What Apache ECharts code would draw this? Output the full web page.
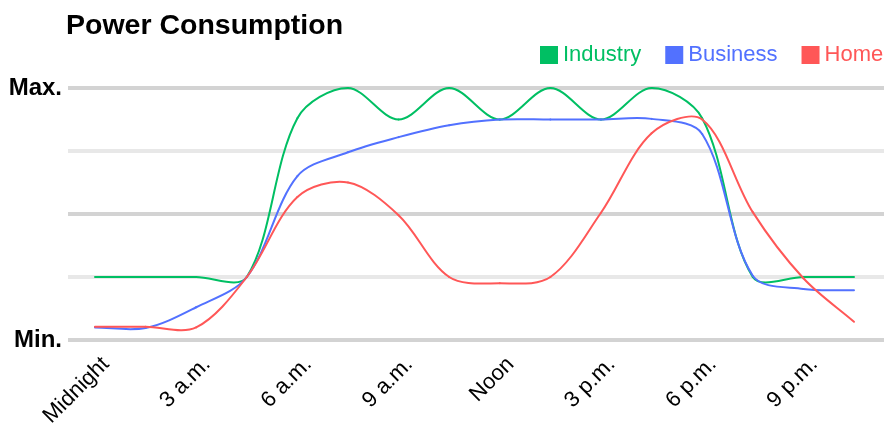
<!DOCTYPE html>
<html lang="en">
<head>
<meta charset="UTF-8">
<title>Power Consumption</title>
<script src="https://cdn.jsdelivr.net/npm/echarts@6.0.0/dist/echarts.min.js"></script>
<style>
    html, body { margin: 0; padding: 0; background: #fff; }
    #main { width: 884px; height: 428px; }
</style>
</head>
<body>
<div id="main"></div>
<script type="text/javascript">
    // samples every 1.5 hours, 0 = midnight
    var hours = [0, 1.5, 3, 4.5, 6, 7.5, 9, 10.5, 12, 13.5, 15, 16.5, 18, 19.5, 21, 22.5];
    // 0 = Min., 4 = Max.
    var industry = [1, 1, 1, 1, 3.52, 4, 3.5, 4, 3.5, 4, 3.5, 4, 3.52, 1, 1, 1];
    var business = [0.2, 0.19, 0.52, 1, 2.6, 2.98, 3.22, 3.41, 3.5, 3.5, 3.5, 3.51, 3.27, 1.02, 0.81, 0.79];
    var home = [0.21, 0.21, 0.2, 1, 2.27, 2.5, 1.98, 1, 0.9, 1, 2.02, 3.28, 3.5, 2.03, 0.98, 0.29];
    var tickHours = [0, 3, 6, 9, 12, 15, 18, 21];
    var tickLabels = ['Midnight', '3 a.m.', '6 a.m.', '9 a.m.', 'Noon', '3 p.m.', '6 p.m.', '9 p.m.'];

    var font = '"Liberation Sans", Arial, sans-serif';
    var xMin = -0.8, xMax = 23.39;
    var labelShift = 0.32;   // the source puts its rotated labels a little right of the tick
    var tension = 0.33;

    // cubic spline like Chart.js (no clamping at the extremes, so it overshoots a bit)
    function controlPoints(pts) {
        var cps = [];
        for (var i = 0; i < pts.length; i++) {
            var p = pts[i];
            var prev = pts[i - 1] || p;
            var next = pts[i + 1] || p;
            var d01 = Math.hypot(p[0] - prev[0], p[1] - prev[1]);
            var d12 = Math.hypot(next[0] - p[0], next[1] - p[1]);
            var s01 = d01 / (d01 + d12) || 0;
            var s12 = d12 / (d01 + d12) || 0;
            var fa = tension * s01, fb = tension * s12;
            var vx = next[0] - prev[0], vy = next[1] - prev[1];
            cps.push({
                prev: [p[0] - fa * vx, p[1] - fa * vy],
                next: [p[0] + fb * vx, p[1] + fb * vy]
            });
        }
        return cps;
    }

    function lineSeries(name, color, values) {
        return {
            name: name,
            type: 'custom',
            color: color,
            itemStyle: { color: color },
            encode: { x: 0, y: 1 },
            data: [[hours[0], values[0]]],
            renderItem: function (params, api) {
                var pts = [];
                for (var i = 0; i < hours.length; i++) {
                    pts.push(api.coord([hours[i], values[i]]));
                }
                var cps = controlPoints(pts);
                var children = [];
                for (var j = 0; j < pts.length - 1; j++) {
                    children.push({
                        type: 'bezierCurve',
                        shape: {
                            x1: pts[j][0], y1: pts[j][1],
                            cpx1: cps[j].next[0], cpy1: cps[j].next[1],
                            cpx2: cps[j + 1].prev[0], cpy2: cps[j + 1].prev[1],
                            x2: pts[j + 1][0], y2: pts[j + 1][1]
                        },
                        style: { stroke: color, lineWidth: 2, fill: 'none', lineCap: 'round' }
                    });
                }
                return { type: 'group', children: children };
            }
        };
    }

    var myChart = echarts.init(document.getElementById('main'));
    var option = {
        animation: false,
        title: {
            text: 'Power Consumption',
            left: 66,
            top: 12,
            padding: 0,
            textStyle: { fontFamily: font, fontSize: 28.5, fontWeight: 'bold', color: '#000' }
        },
        legend: {
            left: 540,
            top: 44,
            padding: 0,
            icon: 'rect',
            itemWidth: 18,
            itemHeight: 18,
            itemGap: 24,
            textStyle: { fontFamily: font, fontSize: 22 },
            data: [
                { name: 'Industry', textStyle: { color: '#00bf63' } },
                { name: 'Business', textStyle: { color: '#5271ff' } },
                { name: 'Home', textStyle: { color: '#ff5757' } }
            ]
        },
        grid: {
            left: 68,
            right: 0,
            top: 88,
            bottom: 88,
            outerBoundsMode: 'none'
        },
        xAxis: [
            {
                type: 'value',
                min: xMin,
                max: xMax,
                axisLine: { show: false },
                axisTick: { show: false },
                splitLine: { show: false },
                axisLabel: { show: false }
            },
            {
                // label-only axis
                type: 'value',
                position: 'bottom',
                min: xMin - labelShift,
                max: xMax - labelShift,
                axisLine: { show: false },
                axisTick: { show: false },
                splitLine: { show: false },
                axisLabel: {
                    customValues: tickHours,
                    rotate: 45,
                    margin: 21,
                    fontFamily: font,
                    fontSize: 22,
                    color: '#000',
                    formatter: function (v) {
                        var i = tickHours.indexOf(v);
                        return i >= 0 ? tickLabels[i] : '';
                    }
                }
            }
        ],
        yAxis: {
            type: 'value',
            min: 0,
            max: 4,
            interval: 1,
            axisLine: { show: false },
            axisTick: { show: false },
            axisLabel: {
                margin: 6,
                fontFamily: font,
                fontSize: 24,
                fontWeight: 'bold',
                color: '#000',
                formatter: function (v) {
                    if (v === 0) return 'Min.';
                    if (v === 4) return 'Max.';
                    return '';
                }
            },
            splitLine: {
                lineStyle: { color: ['#d3d3d3', '#e8e8e8'], width: 4 }
            }
        },
        series: [
            lineSeries('Industry', '#00bf63', industry),
            lineSeries('Business', '#5271ff', business),
            lineSeries('Home', '#ff5757', home)
        ]
    };
    myChart.setOption(option);
</script>
</body>
</html>
